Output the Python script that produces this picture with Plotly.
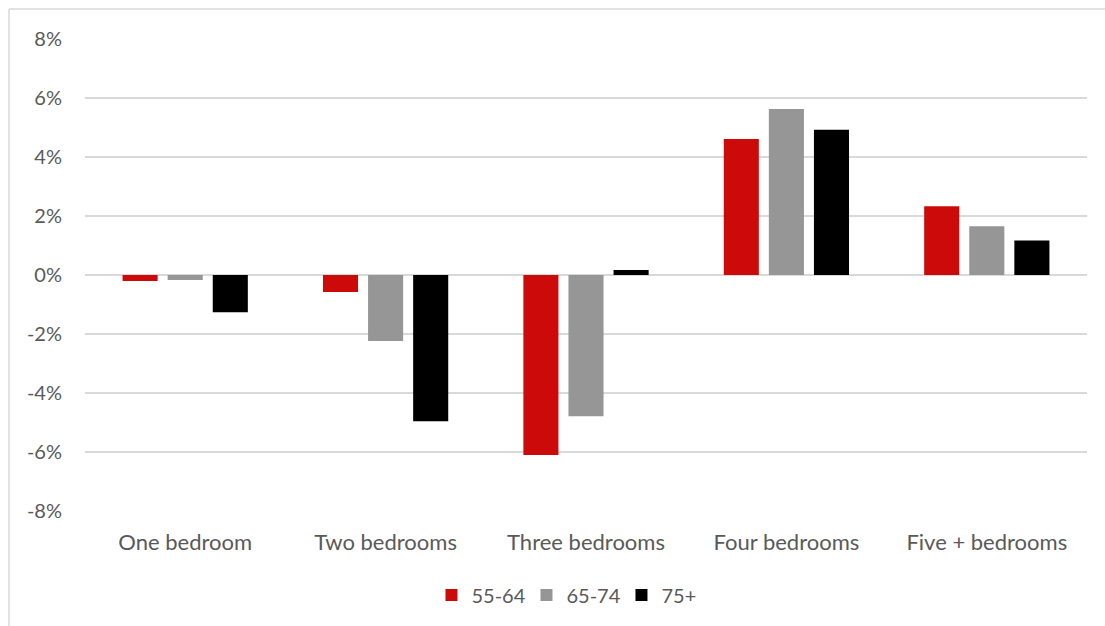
import plotly.graph_objects as go

categories = ["One bedroom", "Two bedrooms", "Three bedrooms", "Four bedrooms", "Five + bedrooms"]
series_names = ["55-64", "65-74", "75+"]
vals_55_64 = [-0.20, -0.58, -6.10, 4.61, 2.33]
vals_65_74 = [-0.17, -2.24, -4.79, 5.63, 1.65]
vals_75p = [-1.26, -4.96, 0.17, 4.92, 1.17]
colors = ["#CC0A0A", "#969696", "#000000"]
tick_vals = [-8, -6, -4, -2, 0, 2, 4, 6, 8]
tick_text = [f"{v}%" for v in tick_vals]

W, H = 1105, 626
L, R, T, B = 85, 1087, 39, 511

fig = go.Figure()
for name, vals, col in zip(series_names, [vals_55_64, vals_65_74, vals_75p], colors):
    fig.add_trace(go.Bar(x=categories, y=vals, name=name, marker=dict(color=col, line=dict(width=0))))

FONT = "Lato"
fig.update_layout(
    width=W, height=H,
    margin=dict(l=L, r=W - R, t=T, b=H - B),
    plot_bgcolor="white", paper_bgcolor="white",
    barmode="group", bargap=0.325, bargroupgap=0.222,
    font=dict(family=FONT, size=20, color="#595959"),
    showlegend=True,
    legend=dict(orientation="h", x=0.488, xanchor="center", y=-0.178, yanchor="middle",
                font=dict(size=20, color="#595959"), itemwidth=30, traceorder="normal",
                entrywidth=50, entrywidthmode="pixels"),
    shapes=[
        dict(type="line", xref="paper", yref="paper", x0=(9 - L) / (R - L), x1=(W - L) / (R - L),
             y0=(B - 9) / (B - T), y1=(B - 9) / (B - T), line=dict(color="#D9D9D9", width=1.5)),
        dict(type="line", xref="paper", yref="paper", x0=(9 - L) / (R - L), x1=(9 - L) / (R - L),
             y0=(B - 9) / (B - T), y1=(B - H) / (B - T), line=dict(color="#D9D9D9", width=1.5)),
    ],
)
fig.update_yaxes(range=[-8, 8], tickvals=tick_vals, ticktext=tick_text, showgrid=True,
                 gridcolor="#D9D9D9", gridwidth=1.5, zeroline=False, showline=False,
                 ticks="", ticklabelstandoff=22, tickfont=dict(size=20, color="#595959"))
fig.update_xaxes(showline=False, ticks="", showgrid=False, ticklabelstandoff=16,
                 tickfont=dict(size=22, color="#595959"))

fig.write_html("out.html", config={"displayModeBar": False},
               post_script="document.body.style.margin='0';document.body.style.overflow='hidden';")
